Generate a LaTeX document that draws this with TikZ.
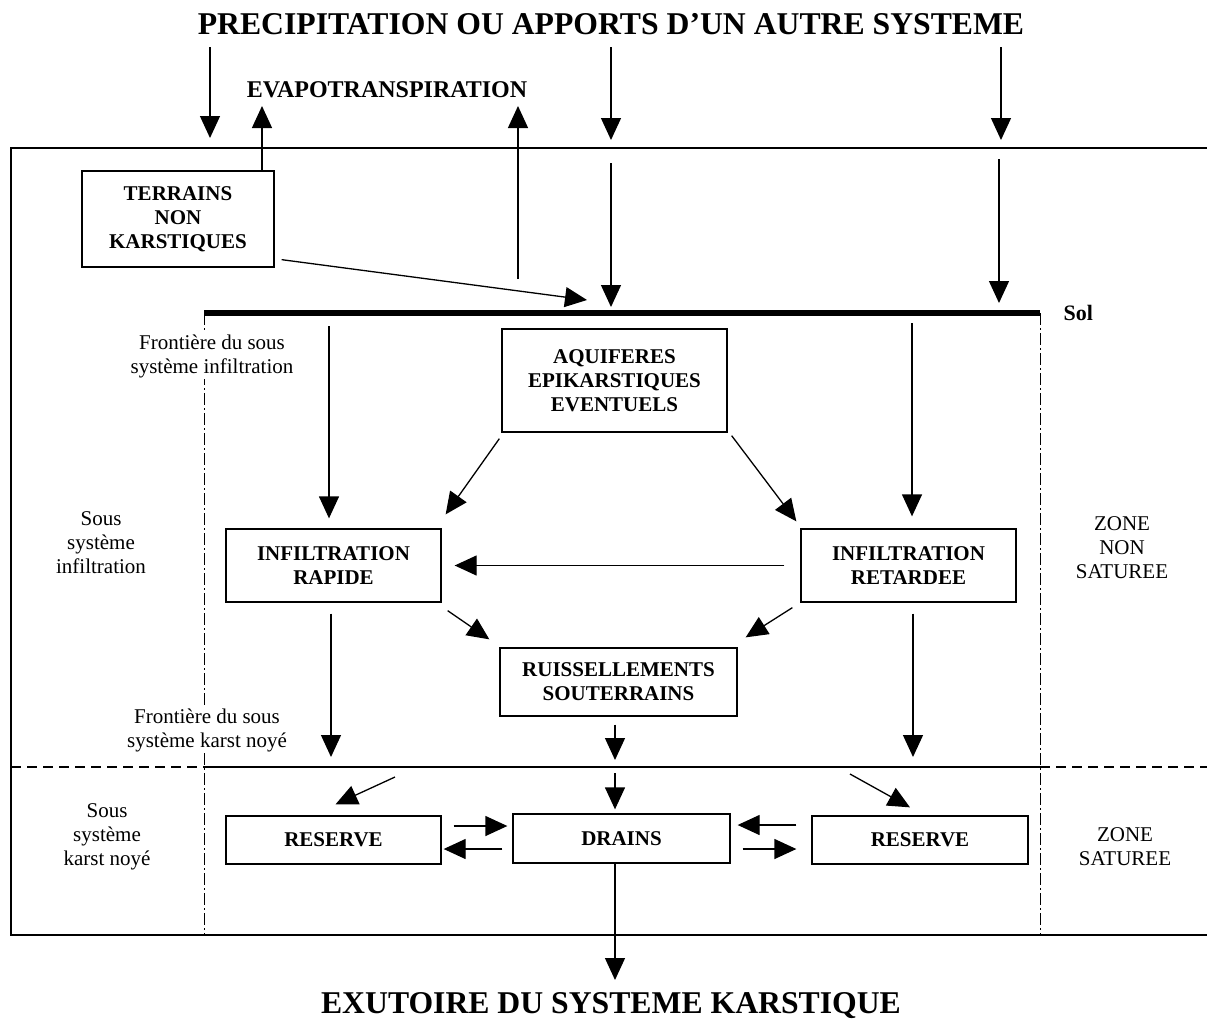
\documentclass[tikz,border=0pt]{standalone}
\usepackage{fontspec}
\setmainfont{Liberation Serif}
\usetikzlibrary{arrows.meta}

\tikzset{
  box/.style={draw, line width=1.3pt, align=center, inner sep=0pt, font=\fontsize{21}{24}\selectfont\bfseries},
  arr/.style={line width=1.3pt, -{Triangle[length=22pt,width=20pt]}},
  note/.style={align=center, fill=white, inner sep=1pt},
  bigtitle/.style={font=\fontsize{31.7}{36}\selectfont\bfseries},
  frontier/.style={line width=1pt, dash pattern=on 12pt off 3pt on 2pt off 3pt},
}

\begin{document}
\begin{tikzpicture}[x=1pt,y=-1pt,font=\fontsize{21}{24}\selectfont]
  \useasboundingbox (0,0) rectangle (1207,1021);

  \node[bigtitle] (precip) at (611,24) {PRECIPITATION OU APPORTS D’UN AUTRE SYSTEME};
  \node[font=\fontsize{24}{28}\selectfont\bfseries] (evap) at (387,90) {EVAPOTRANSPIRATION};
  \node[bigtitle] (exut) at (611,1006) {EXUTOIRE DU SYSTEME KARSTIQUE};

  \draw[line width=2.5pt] (11,148) rectangle (1230,935);

  \coordinate (solL) at (204,313);
  \coordinate (solR) at (1040,313);
  \draw[frontier] (solL) -- (204,935);
  \draw[frontier] (solR) -- (1040,935);
  \draw[line width=6pt] (solL) -- (solR);
  \node[font=\fontsize{22}{26}\selectfont\bfseries, anchor=west] (sol) at (1060,313) {Sol};

  \draw[line width=1.3pt, dash pattern=on 10pt off 6pt] (11,767) -- (204,767);
  \draw[line width=1.3pt] (204,767) -- (1040,767);
  \draw[line width=1.3pt, dash pattern=on 10pt off 6pt] (1040,767) -- (1230,767);

  \node[note] (front1) at (212,356) {Frontière du sous\\système infiltration};
  \node[note] (front2) at (207,730) {Frontière du sous\\système karst noyé};
  \node[note] (ssinf) at (101,543) {Sous\\système\\infiltration};
  \node[note] (sskarst) at (107,837) {Sous\\système\\karst noyé};
  \node[note] (zns) at (1122,548) {ZONE\\NON\\SATUREE};
  \node[note] (zs) at (1125,847) {ZONE\\SATUREE};

  \node[box, minimum width=192pt, minimum height=96pt] (terrains) at (178,219) {TERRAINS\\NON\\KARSTIQUES};
  \node[box, minimum width=225pt, minimum height=103pt] (aquif) at (614.5,380.5) {AQUIFERES\\EPIKARSTIQUES\\EVENTUELS};
  \node[box, minimum width=215pt, minimum height=73pt] (rapide) at (333.5,565.5) {INFILTRATION\\RAPIDE};
  \node[box, minimum width=215pt, minimum height=73pt] (retard) at (908.5,565.5) {INFILTRATION\\RETARDEE};
  \node[box, minimum width=237pt, minimum height=68pt] (ruiss) at (618.5,682) {RUISSELLEMENTS\\SOUTERRAINS};
  \node[box, minimum width=215pt, minimum height=48pt] (resL) at (333.5,840) {RESERVE};
  \node[box, minimum width=217pt, minimum height=49pt] (drains) at (621.5,838.5) {DRAINS};
  \node[box, minimum width=216pt, minimum height=48pt] (resR) at (920,840) {RESERVE};

  \coordinate (pa) at (210,47);
  \coordinate (pa2) at (210,138);
  \coordinate (pb) at (611,47);
  \coordinate (pb2) at (611,140);
  \coordinate (pc) at (1001,47);
  \coordinate (pc2) at (1001,140);
  \draw[arr] (pa) -- (pa2);
  \draw[arr] (pb) -- (pb2);
  \draw[arr] (pc) -- (pc2);

  \coordinate (evA) at (262,106);
  \coordinate (evB0) at (518,279);
  \coordinate (evB) at (518,106);
  \draw[arr] (terrains.north -| evA) -- (evA);
  \draw[arr] (evB0) -- (evB);

  \coordinate (inA) at (611,163);
  \coordinate (solA) at (611,307);
  \coordinate (inB) at (999,159);
  \coordinate (solB) at (999,303);
  \coordinate (solT) at (587,300);
  \draw[arr] (inA) -- (solA);
  \draw[arr] (inB) -- (solB);
  \draw[arr] ([shift={(7,-8)}]terrains.south east) -- (solT);

  \coordinate (s1) at (329,326);
  \coordinate (s2) at (912,323);
  \draw[arr, shorten >=10pt] (s1) -- (s1 |- rapide.north);
  \draw[arr, shorten >=12pt] (s2) -- (s2 |- retard.north);

  \draw[arr] ([shift={(-2,6)}]aquif.south west) -- ([shift={(4,-14)}]rapide.north east);
  \draw[arr] ([shift={(4,3)}]aquif.south east) -- ([shift={(-4,-7)}]retard.north west);
  \draw[arr, shorten <=16pt, shorten >=13pt] (retard) -- (rapide);

  \draw[arr] ([shift={(6,8)}]rapide.south east) -- ([shift={(-10,-8)}]ruiss.north west);
  \draw[arr] ([shift={(-8,5)}]retard.south west) -- ([shift={(8,-10)}]ruiss.north east);

  \coordinate (k1) at (331,757);
  \coordinate (k2) at (913,757);
  \coordinate (k3) at (615,760);
  \draw[arr, shorten <=11pt] (rapide.south -| k1) -- (k1);
  \draw[arr, shorten <=11pt] (retard.south -| k2) -- (k2);
  \draw[arr, shorten <=8pt] (ruiss.south -| k3) -- (k3);

  \coordinate (k4) at (615,773);
  \coordinate (k5) at (395,777);
  \coordinate (k6) at (850,774);
  \draw[arr, shorten >=4pt] (k4) -- (k4 |- drains.north);
  \draw[arr] (k5) -- ([shift={(2,-11)}]resL.north);
  \draw[arr] (k6) -- ([shift={(-10,-8)}]resR.north);

  \draw[arr] ([shift={(12,-14)}]resL.east) -- ([shift={(-5,-12.5)}]drains.west);
  \draw[arr] ([shift={(-10,10.5)}]drains.west) -- ([shift={(2,9)}]resL.east);
  \draw[arr] ([shift={(-15,-15)}]resR.west) -- ([shift={(7,-13.5)}]drains.east);
  \draw[arr] ([shift={(12,10.5)}]drains.east) -- ([shift={(-15,9)}]resR.west);

  \coordinate (k7) at (615,980);
  \draw[arr] (drains.south -| k7) -- (k7);
\end{tikzpicture}
\end{document}
